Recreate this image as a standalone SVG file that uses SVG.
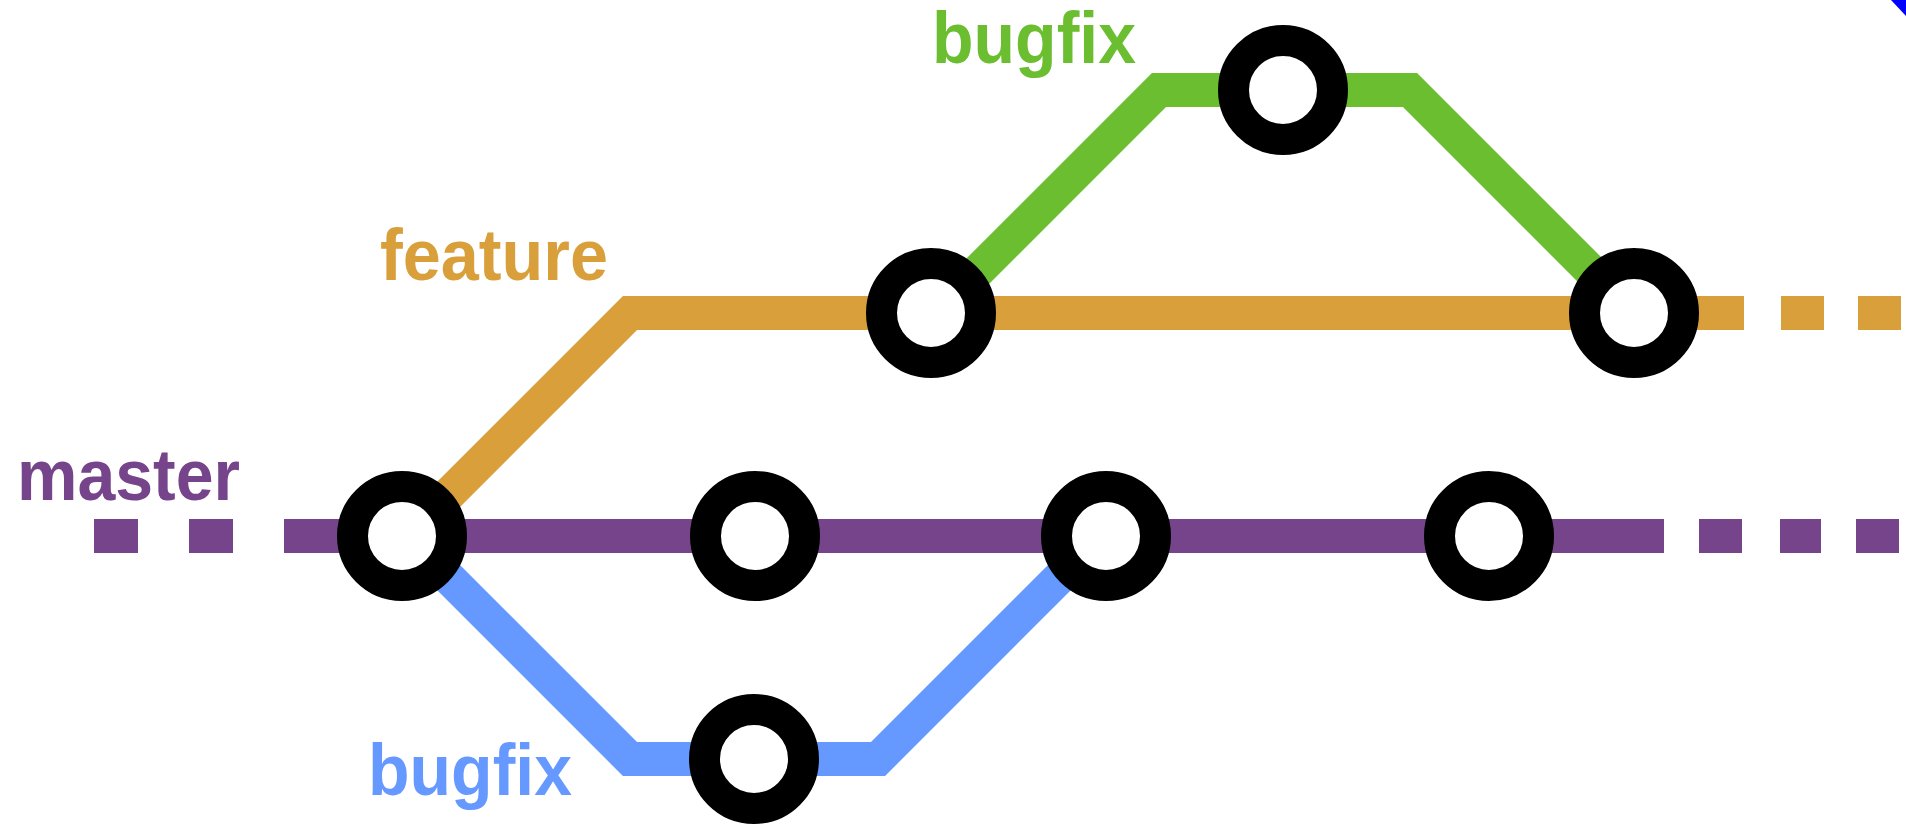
<svg xmlns="http://www.w3.org/2000/svg" width="1906" height="825" viewBox="0 0 1906 825">
  <style>
    .line { fill: none; stroke-width: 34; stroke-linecap: butt; stroke-linejoin: miter; }
    .master { stroke: #76448A; }
    .feature { stroke: #D89F3A; }
    .fix-up { stroke: #6ABE30; }
    .fix-down { stroke: #6699FF; }
    .commit { fill: #FFFFFF; stroke: #000000; stroke-width: 31; }
    .label { font-family: "Liberation Sans", Arial, Helvetica, sans-serif; font-weight: bold; font-size: 73px; }
  </style>

  <rect width="1906" height="825" fill="#FFFFFF"/>

  <!-- branch tracks -->
  <g id="connectors">
    <path class="line master" d="M94 536 H138 M189 536 H233 M284 536 H1664 M1699 536 H1742 M1780 536 H1821 M1856 536 H1899"/>
    <path class="line feature" d="M407 536 L630 313 H1744 M1781 313 H1824 M1858 313 H1901"/>
    <path class="line fix-down" d="M407 536 L630 759 H878 L1101 536"/>
    <path class="line fix-up" d="M936 313 L1159 90 H1410 L1633 313"/>
    <polygon points="1891,0 1906,0 1906,16" fill="#0000FF"/>
  </g>

  <!-- branch names -->
  <g id="label-master"><text class="label" x="17" y="500" fill="#76448A" textLength="223" lengthAdjust="spacingAndGlyphs">master</text></g>
  <g id="label-feature"><text class="label" x="380" y="280" fill="#D89F3A" textLength="228" lengthAdjust="spacingAndGlyphs">feature</text></g>
  <g id="label-bugfix-top"><text class="label" x="932" y="63" fill="#6ABE30" textLength="204" lengthAdjust="spacingAndGlyphs">bugfix</text></g>
  <g id="label-bugfix-bottom"><text class="label" x="368" y="795" fill="#6699FF" textLength="204" lengthAdjust="spacingAndGlyphs">bugfix</text></g>

  <!-- commits -->
  <g id="commit-m1"><circle class="commit" cx="402" cy="536" r="49.5"/></g>
  <g id="commit-m2"><circle class="commit" cx="755" cy="536" r="49.5"/></g>
  <g id="commit-m3"><circle class="commit" cx="1106" cy="536" r="49.5"/></g>
  <g id="commit-m4"><circle class="commit" cx="1489" cy="536" r="49.5"/></g>
  <g id="commit-f1"><circle class="commit" cx="931" cy="313" r="49.5"/></g>
  <g id="commit-f2"><circle class="commit" cx="1634" cy="313" r="49.5"/></g>
  <g id="commit-g1"><circle class="commit" cx="1283" cy="90" r="49.5"/></g>
  <g id="commit-b1"><circle class="commit" cx="754" cy="759" r="49.5"/></g>
</svg>
